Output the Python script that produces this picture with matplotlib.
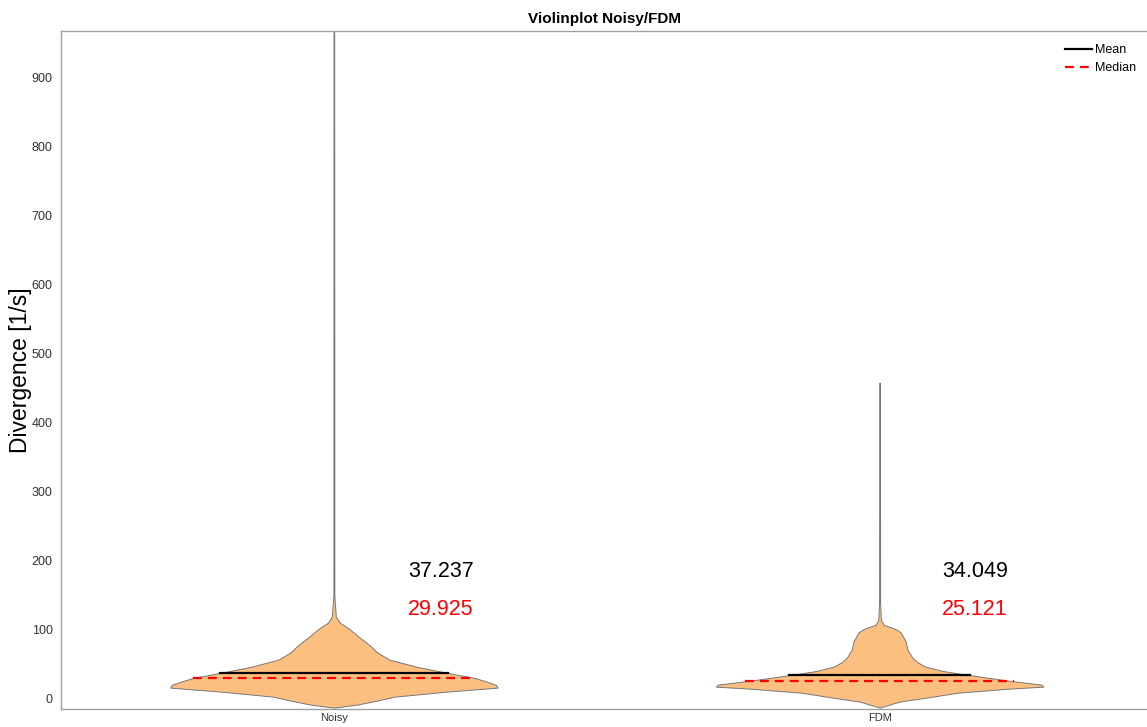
import numpy as np
import matplotlib
matplotlib.use("Agg")
import matplotlib.pyplot as plt
from matplotlib.lines import Line2D

plt.rcParams['font.family'] = ['Liberation Sans', 'DejaVu Sans']

groups = ["Noisy", "FDM"]
means = [37.237, 34.049]
medians = [29.925, 25.121]

# violin outlines: height [1/s] -> relative half width
noisy_y = [-13, -8.7, -3, 2.9, 10, 16, 20, 25, 30, 38, 46, 56.5, 62, 68, 75, 81, 90, 100, 105, 110, 119, 150, 968]
noisy_w = [0, 0.14, 0.26, 0.37, 0.68, 1.0, 0.99, 0.93, 0.86, 0.68, 0.51, 0.34, 0.30, 0.26, 0.23, 0.20, 0.15, 0.10, 0.07, 0.037, 0.012, 0.003, 0.002]
fdm_y = [-13, -4.3, 2, 8.7, 14.5, 17.4, 20.3, 26, 34.8, 40, 46.4, 53, 59.4, 71, 82.6, 95.7, 100, 103, 107, 114.5, 140, 458]
fdm_w = [0, 0.12, 0.30, 0.48, 0.79, 1.0, 0.99, 0.79, 0.53, 0.39, 0.28, 0.23, 0.20, 0.17, 0.16, 0.13, 0.105, 0.074, 0.025, 0.008, 0.003, 0.002]

profiles = [(noisy_y, noisy_w), (fdm_y, fdm_w)]
text_dx = [0.136, 0.115]
max_half = 0.30

fig = plt.figure(figsize=(11.47, 7.27), dpi=100)
ax = fig.add_axes([61 / 1147, 18 / 727, 1 - 61 / 1147, 1 - 49 / 727])

for i, (py, pw) in enumerate(profiles):
    c = i + 1
    py = np.array(py)
    pw = np.array(pw) * max_half
    ax.fill_betweenx(py, c - pw, c + pw, facecolor='#fdbf7f', edgecolor='#777777', linewidth=0.7, zorder=2)
    wm = np.interp(means[i], py, pw)
    wd = np.interp(medians[i], py, pw)
    ax.plot([c - wm, c + wm], [means[i], means[i]], color='black', lw=1.6, zorder=3)
    ax.plot([c - wd, c + wd], [medians[i], medians[i]], color='red', lw=1.6,
            dashes=(4, 2.7), zorder=3)
    ax.text(c + text_dx[i], 184, f"{means[i]:.3f}", fontsize=15.5, color='black', va='center', ha='left')
    ax.text(c + text_dx[i], 129, f"{medians[i]:.3f}", fontsize=15.5, color='red', va='center', ha='left')

ax.set_xlim(0.5, 2.49)
ax.set_ylim(-15, 968)
ax.set_xticks([1, 2])
ax.set_xticklabels(groups, fontsize=8, color='#333333')
ax.set_yticks(np.arange(0, 901, 100))
ax.tick_params(axis='y', labelsize=9, colors='#333333', length=0, pad=6)
ax.tick_params(axis='x', length=0, pad=3)
ax.set_ylabel("Divergence [1/s]", fontsize=16.5)
ax.yaxis.set_label_coords(-0.027, 0.5)
ax.set_title("Violinplot Noisy/FDM", fontsize=11, fontweight='bold', pad=6)

for s in ['left', 'top', 'bottom']:
    ax.spines[s].set_color('#a0a0a0')
    ax.spines[s].set_linewidth(1.0)
ax.spines['right'].set_visible(False)

handles = [Line2D([0], [0], color='black', lw=1.6),
           Line2D([0], [0], color='red', lw=1.6, dashes=(4, 2.7))]
ax.legend(handles, ["Mean", "Median"], loc='upper right', frameon=False, fontsize=9,
          handlelength=2.2, handletextpad=0.2, labelspacing=0.45,
          bbox_to_anchor=(1.0, 0.997))

fig.savefig("out.png", dpi=100)
